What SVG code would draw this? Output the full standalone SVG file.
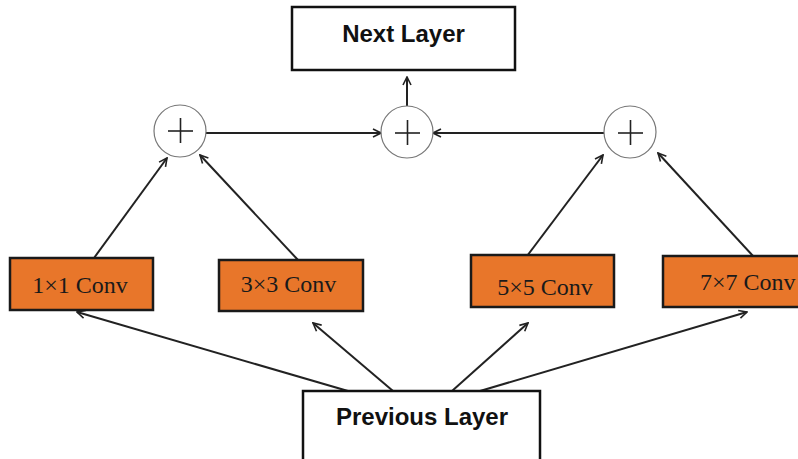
<svg xmlns="http://www.w3.org/2000/svg" width="798" height="459" viewBox="0 0 798 459">
<defs>
<marker id="ah" viewBox="0 0 10 10" refX="9" refY="5" markerWidth="10" markerHeight="10" markerUnits="userSpaceOnUse" orient="auto">
<path d="M1,1 L9,5 L1,9" fill="none" stroke="#222" stroke-width="1.6"/>
</marker>
<style>
.box{fill:#fff;stroke:#111;stroke-width:2.5}
.conv{fill:#E8762A;stroke:#1a1a1a;stroke-width:2.5}
.lbl{font-family:"Liberation Sans",Arial,sans-serif;font-weight:bold;font-size:24px;fill:#111}
.cl{font-family:"Liberation Serif","Times New Roman",serif;font-size:24px;fill:#1a1a1a}
.sum{fill:#fff;stroke:#777;stroke-width:1.2}
.plus{stroke:#222;stroke-width:1.6}
.ed{stroke:#222;stroke-width:2;fill:none;marker-end:url(#ah)}
</style>
</defs>
<rect width="798" height="459" fill="#fff"/>
<g id="connectors">
<line class="ed" x1="407" y1="106" x2="407" y2="77"/>
<line class="ed" x1="206" y1="133" x2="381" y2="133"/>
<line class="ed" x1="604" y1="133" x2="433" y2="133"/>
<line class="ed" x1="94" y1="258" x2="167" y2="158"/>
<line class="ed" x1="298" y1="260" x2="200" y2="155"/>
<line class="ed" x1="527" y1="256" x2="603" y2="155"/>
<line class="ed" x1="753" y1="256" x2="658" y2="153"/>
<line class="ed" x1="348" y1="391" x2="77" y2="312"/>
<line class="ed" x1="393" y1="391" x2="313" y2="323"/>
<line class="ed" x1="452" y1="391" x2="528" y2="323"/>
<line class="ed" x1="480" y1="391" x2="747" y2="312"/>
</g>
<g id="next-layer">
<rect class="box" x="292" y="7" width="223" height="63"/>
<text class="lbl" x="403.5" y="42" text-anchor="middle">Next Layer</text>
</g>
<g id="sum-left">
<circle class="sum" cx="180" cy="131" r="26"/>
<line class="plus" x1="168" y1="131" x2="193" y2="131"/>
<line class="plus" x1="180.5" y1="118" x2="180.5" y2="143"/>
</g>
<g id="sum-center">
<circle class="sum" cx="407" cy="132" r="26"/>
<line class="plus" x1="395" y1="133" x2="420" y2="133"/>
<line class="plus" x1="407.5" y1="120" x2="407.5" y2="145"/>
</g>
<g id="sum-right">
<circle class="sum" cx="630" cy="132" r="26"/>
<line class="plus" x1="618" y1="133" x2="643" y2="133"/>
<line class="plus" x1="630.5" y1="120" x2="630.5" y2="145"/>
</g>
<g id="conv1">
<rect class="conv" x="10" y="258" width="143" height="52"/>
<text class="cl" x="80" y="293" text-anchor="middle">1×1 Conv</text>
</g>
<g id="conv3">
<rect class="conv" x="219" y="260" width="144" height="51"/>
<text class="cl" x="288.5" y="292" text-anchor="middle">3×3 Conv</text>
</g>
<g id="conv5">
<rect class="conv" x="471" y="255" width="143" height="52"/>
<text class="cl" x="545" y="295" text-anchor="middle">5×5 Conv</text>
</g>
<g id="conv7">
<rect class="conv" x="663" y="256" width="150" height="51"/>
<text class="cl" x="700" y="290">7×7 Conv</text>
</g>
<g id="previous-layer">
<rect class="box" x="303" y="391" width="237" height="75"/>
<text class="lbl" x="422" y="425" text-anchor="middle">Previous Layer</text>
</g>
</svg>
